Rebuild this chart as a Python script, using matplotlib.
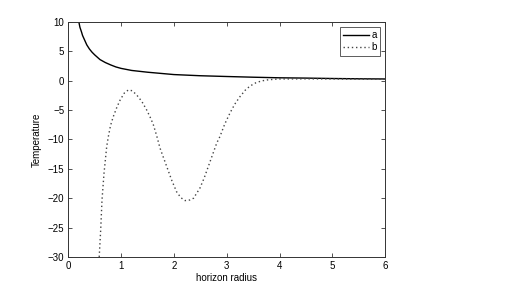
import matplotlib
matplotlib.use("Agg")
import matplotlib.pyplot as plt

# curve a (solid)
a_x = [0.18, 0.2, 0.22, 0.25, 0.27, 0.3, 0.35, 0.4, 0.45, 0.5, 0.6, 0.7, 0.8, 0.9, 1.0,
       1.2, 1.5, 2.0, 2.5, 3.0, 3.5, 4.0, 4.5, 5.0, 5.5, 6.0]
a_y = [11.0, 10.0, 9.1, 8.3, 7.7, 7.1, 6.1, 5.4, 4.85, 4.4, 3.6, 3.1, 2.7, 2.35, 2.1,
       1.75, 1.45, 1.05, 0.85, 0.72, 0.6, 0.5, 0.45, 0.38, 0.33, 0.3]

# curve b (dotted)
b_x = [0.585, 0.613, 0.638, 0.676, 0.727, 0.758, 0.80, 0.852, 0.92, 0.98, 1.06, 1.136,
       1.21, 1.295, 1.39, 1.485, 1.56, 1.61, 1.674, 1.737, 1.863, 1.96, 2.05, 2.13, 2.21,
       2.30, 2.37, 2.49, 2.57, 2.65, 2.73, 2.81, 2.87, 2.96, 3.06, 3.15, 3.25,
       3.35, 3.44, 3.55, 3.65, 3.76, 3.9, 4.0, 4.5, 5.0, 5.5, 6.0]
b_y = [-30.0, -25.4, -20.3, -15.75, -11.2, -9.5, -7.6, -6.1, -4.5, -3.3, -2.1, -1.57,
       -1.7, -2.43, -3.5, -5.0, -6.4, -7.5, -9.4, -11.5, -14.6, -17.0, -18.9, -19.9, -20.4,
       -20.3, -20.0, -18.3, -16.6, -14.6, -12.6, -10.6, -9.5, -7.4, -5.5, -4.0, -2.7,
       -1.6, -0.9, -0.35, -0.05, 0.13, 0.25, 0.3, 0.32, 0.3, 0.28, 0.26]

labels = ["a", "b"]
x_ticks = [0, 1, 2, 3, 4, 5, 6]
y_ticks = [-30, -25, -20, -15, -10, -5, 0, 5, 10]

plt.rcParams['font.family'] = ['Liberation Sans', 'DejaVu Sans']
plt.rcParams['axes.unicode_minus'] = True

fig = plt.figure(figsize=(5.27, 2.90), dpi=100)
ax = fig.add_axes([0.1296, 0.1138, 0.6015, 0.8104])

ax.plot(a_x, a_y, color='k', lw=1.0, linestyle='-', label=labels[0])
ax.plot(b_x, b_y, color='#444444', lw=1.0, linestyle=(0, (1, 2)), label=labels[1])

ax.set_xlim(0, 6)
ax.set_ylim(-30, 10)
ax.set_xticks(x_ticks)
ax.set_yticks(y_ticks)
ax.tick_params(direction='in', length=3, width=0.6, top=True, right=True,
               labelsize=7, pad=3, color='#333333')
for s in ax.spines.values():
    s.set_linewidth(0.7)
    s.set_color('#333333')

ax.set_xlabel("horizon radius", fontsize=7, labelpad=1)
ax.set_ylabel("Temperature", fontsize=7, labelpad=4)

leg = ax.legend(loc='upper right', fontsize=7, frameon=True, fancybox=False,
                handlelength=2.6, handletextpad=0.3, borderpad=0.35,
                labelspacing=0.2, borderaxespad=0.5)
leg.get_frame().set_edgecolor('#333333')
leg.get_frame().set_linewidth(0.7)

fig.savefig("out.png", dpi=100)
